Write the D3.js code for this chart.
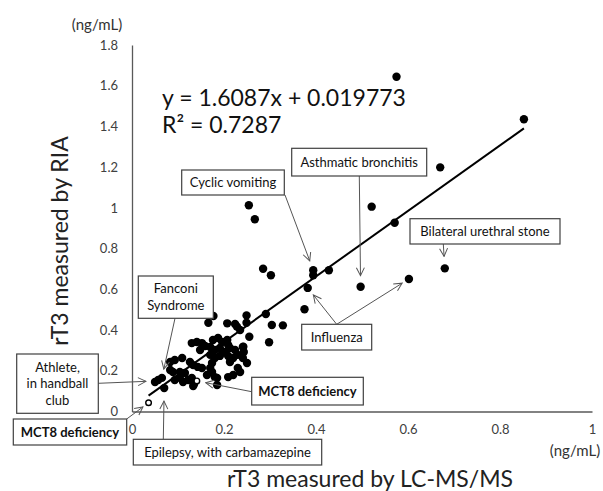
<!DOCTYPE html>
<html><head><meta charset="utf-8">
<script src="https://cdn.jsdelivr.net/npm/d3@7"></script>
<style>
html,body{margin:0;padding:0;background:#fff;}
svg{display:block;font-family:Lato,"Open Sans",sans-serif;}
</style></head>
<body>
<svg id="chart" width="603" height="491"></svg>
<script>
// ---- data ----
const xTicks = [0, 0.2, 0.4, 0.6, 0.8, 1];
const xTickLabels = ["0", "0.2", "0.4", "0.6", "0.8", "1"];
const yTicks = [0, 0.2, 0.4, 0.6, 0.8, 1, 1.2, 1.4, 1.6, 1.8];
const yTickLabels = ["0", "0.2", "0.4", "0.6", "0.8", "1", "1.2", "1.4", "1.6", "1.8"];
// rT3 by LC-MS/MS (x) and by RIA (y), ng/mL
const lcmsX = [0.575,0.852,0.670,0.521,0.571,0.680,0.602,0.497,0.394,0.394,0.428,0.382,0.375,0.328,0.254,0.267,0.285,0.302,0.304,0.291,0.249,0.177,0.166,0.207,0.249,0.228,0.235,0.255,0.242,0.298,
  0.057,0.065,0.070,0.050,0.083,0.093,0.109,0.083,0.089,0.104,0.115,0.093,0.104,0.111,0.122,0.130,0.135,0.133,0.126,0.133,0.143,0.152,0.130,0.141,0.152,0.159,0.148,0.170,0.176,0.187,0.196,0.207,0.209,0.213,0.202,0.180,0.191,0.170,0.180,0.191,0.209,0.213,0.174,0.170,0.230,0.235,0.174,0.180,0.185,0.163,0.185,0.209,0.220,0.224,0.241,0.243,0.220,0.230,0.241,0.250,0.224];
const riaY = [1.644,1.435,1.199,1.006,0.927,0.703,0.651,0.613,0.694,0.669,0.694,0.607,0.502,0.423,1.013,0.944,0.701,0.669,0.425,0.479,0.472,0.469,0.436,0.433,0.436,0.417,0.400,0.367,0.318,0.340,
  0.155,0.165,0.115,0.145,0.243,0.253,0.263,0.204,0.194,0.194,0.189,0.155,0.165,0.145,0.155,0.165,0.135,0.125,0.243,0.228,0.219,0.214,0.336,0.341,0.336,0.322,0.302,0.317,0.351,0.361,0.341,0.351,0.327,0.312,0.292,0.302,0.312,0.278,0.263,0.273,0.273,0.243,0.238,0.214,0.214,0.194,0.194,0.169,0.165,0.179,0.130,0.169,0.179,0.302,0.317,0.292,0.263,0.278,0.263,0.238,0.430];
// MCT8 deficiency cases (open circles)
const mct8X = [0.036, 0.141];
const mct8Y = [0.043, 0.150];
// regression
const slope = 1.6087, intercept = 0.019773, r2 = 0.7287;
const fitRange = [0.036, 0.852];

// annotations: label lines, bold, and target points (data units)
const annotations = [
  {lines:["Cyclic vomiting"], bold:false, targets:[[0.394,0.694]]},
  {lines:["Asthmatic bronchitis"], bold:false, targets:[[0.497,0.613]]},
  {lines:["Bilateral urethral stone"], bold:false, targets:[[0.680,0.703]]},
  {lines:["Influenza"], bold:false, targets:[[0.382,0.607],[0.602,0.651]]},
  {lines:["Fanconi","Syndrome"], bold:false, targets:[[0.065,0.165]]},
  {lines:["Athlete,","in handball","club"], bold:false, targets:[[0.050,0.150]]},
  {lines:["MCT8 deficiency"], bold:true, targets:[[0.036,0.043]]},
  {lines:["MCT8 deficiency"], bold:true, targets:[[0.141,0.150]]},
  {lines:["Epilepsy, with carbamazepine"], bold:false, targets:[[0.070,0.115]]}
];

// ---- layout (pixels) ----
const boxes = [
  {x:181.7, y:170, w:102.6, h:25, anchors:[[285,195]], gaps:[6]},
  {x:291.7, y:148.3, w:135, h:27.7, anchors:[[359.3,176]], gaps:[7]},
  {x:410, y:218.7, w:150, h:25.3, anchors:[[443.3,244]], gaps:[8]},
  {x:301.7, y:324.3, w:70, h:25.7, anchors:[[336.7,324.3],[336.7,324.3]], gaps:[5,4]},
  {x:138.3, y:276, w:75, h:42.3, anchors:[[175,318.3]], gaps:[5]},
  {x:16.7, y:354, w:81.6, h:59.3, anchors:[[98.3,383.3]], gaps:[5]},
  {x:13.3, y:419, w:113.4, h:26, anchors:[[126.7,419]], gaps:[3]},
  {x:251.7, y:377.3, w:111.6, h:27.7, anchors:[[251.7,391.7]], gaps:[5]},
  {x:133.3, y:439.3, w:188.4, h:25.7, anchors:[[163.3,439.3]], gaps:[9]}
];

const svg = d3.select("#chart");
const x = d3.scaleLinear().domain([0,1]).range([132,592]);
const y = d3.scaleLinear().domain([0,1.8]).range([411.5,45]);
const axisColor = "#595959";
const labelColor = "#404040";

// axes
const xAxis = svg.append("g").attr("transform","translate(0,411.5)")
  .call(d3.axisBottom(x).tickValues(xTicks).tickFormat((d,i)=>xTickLabels[i]).tickSize(0).tickPadding(13));
xAxis.select(".domain").attr("stroke",axisColor).attr("stroke-width",1.3);
xAxis.selectAll("text").attr("font-size",13).attr("fill",labelColor).attr("font-family","Lato");

const yAxis = svg.append("g").attr("transform","translate(132,0)")
  .call(d3.axisLeft(y).tickValues(yTicks).tickFormat((d,i)=>yTickLabels[i]).tickSize(0).tickPadding(14));
yAxis.select(".domain").attr("stroke",axisColor).attr("stroke-width",1.3);
yAxis.selectAll("text").attr("font-size",13).attr("fill",labelColor).attr("font-family","Lato");

// units
svg.append("text").attr("x",97).attr("y",30).attr("text-anchor","middle")
  .attr("font-size",15).attr("fill","#333").text("(ng/mL)");
svg.append("text").attr("x",575).attr("y",456).attr("text-anchor","middle")
  .attr("font-size",15).attr("fill","#333").text("(ng/mL)");

// axis titles
svg.append("text").attr("x",370).attr("y",487).attr("text-anchor","middle")
  .attr("font-size",23).attr("fill","#222").text("rT3 measured by LC-MS/MS");
svg.append("text").attr("transform","translate(68,241) rotate(-90)").attr("text-anchor","middle")
  .attr("font-size",23).attr("fill","#222").text("rT3 measured by RIA");

// regression line
svg.append("line")
  .attr("x1",x(fitRange[0])).attr("y1",y(slope*fitRange[0]+intercept))
  .attr("x2",x(fitRange[1])).attr("y2",y(slope*fitRange[1]+intercept))
  .attr("stroke","#000").attr("stroke-width",2);

// points
const pts = lcmsX.map((v,i)=>({x:v,y:riaY[i]}));
svg.append("g").selectAll("circle").data(pts).join("circle")
  .attr("cx",d=>x(d.x)).attr("cy",d=>y(d.y)).attr("r",4.2).attr("fill","#000");
const open = mct8X.map((v,i)=>({x:v,y:mct8Y[i]}));
svg.append("g").selectAll("circle").data(open).join("circle")
  .attr("cx",d=>x(d.x)).attr("cy",d=>y(d.y)).attr("r",2.8)
  .attr("fill","#fff").attr("stroke","#000").attr("stroke-width",1.4);

// equation
svg.append("text").attr("x",162).attr("y",106).attr("font-size",23).attr("fill","#111")
  .text(`y = ${slope}x + ${intercept}`);
svg.append("text").attr("x",162).attr("y",133).attr("font-size",23).attr("fill","#111")
  .text(`R² = ${r2}`);

// arrow marker
const defs = svg.append("defs");
defs.append("marker").attr("id","arr").attr("viewBox","0 0 10 10")
  .attr("refX",9).attr("refY",5).attr("markerWidth",10).attr("markerHeight",10)
  .attr("markerUnits","userSpaceOnUse").attr("orient","auto")
  .append("path").attr("d","M1,1 L9,5 L1,9").attr("fill","none").attr("stroke","#555").attr("stroke-width",1);

// annotations
annotations.forEach((a,i)=>{
  const b = boxes[i];
  const g = svg.append("g");
  a.targets.forEach((t,j)=>{
    const [ax,ay] = b.anchors[j];
    const tx = x(t[0]), ty = y(t[1]);
    const dx = ax-tx, dy = ay-ty, len = Math.hypot(dx,dy);
    const gap = b.gaps[j] + 4;
    g.append("line").attr("x1",ax).attr("y1",ay)
      .attr("x2",tx+dx/len*gap).attr("y2",ty+dy/len*gap)
      .attr("stroke","#555").attr("stroke-width",1).attr("marker-end","url(#arr)");
  });
  g.append("rect").attr("x",b.x).attr("y",b.y).attr("width",b.w).attr("height",b.h)
    .attr("fill","#fff").attr("stroke","#404040").attr("stroke-width",1.2);
  const lh = 16.5;
  const cy = b.y + b.h/2 - (a.lines.length-1)*lh/2;
  a.lines.forEach((l,k)=>{
    g.append("text").attr("x",b.x+b.w/2).attr("y",cy+k*lh).attr("dy","0.35em")
      .attr("text-anchor","middle").attr("font-size",13)
      .attr("font-weight",a.bold?"bold":"normal").attr("fill","#111").text(l);
  });
});
</script>
</body></html>
